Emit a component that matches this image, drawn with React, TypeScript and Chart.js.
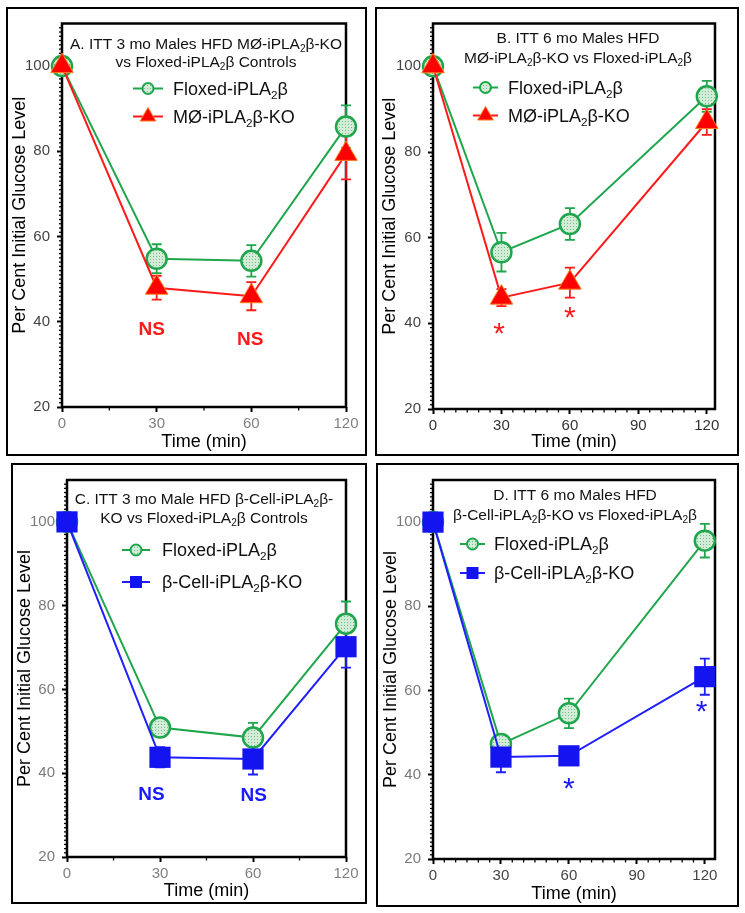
import React, { useEffect, useRef } from 'react';
import { Chart, registerables } from 'chart.js';

Chart.register(...registerables);

// ---------- data ----------
const timeCategories = ['0', '30', '60', '120'];
const timeMinutes = [0, 30, 60, 120];
const linearTimeTicks = [0, 30, 60, 90, 120];
const yTickValues = [20, 40, 60, 80, 100];

const aFloxed = [100, 54.8, 54.3, 85.8];
const aFloxedErr = [0, 3.4, 3.7, 5.0];
const aMoKO = [100, 48.0, 46.0, 79.4];
const aMoKOErr = [0, 2.8, 3.3, 6.0];

const bFloxed = [100, 56.6, 63.2, 93.0];
const bFloxedErr = [0, 4.5, 3.7, 3.6];
const bMoKO = [100, 46.0, 49.5, 87.0];
const bMoKOErr = [0, 2.0, 3.5, 3.0];

const cFloxed = [100, 50.9, 48.5, 75.7];
const cFloxedErr = [0, 1.5, 3.5, 5.3];
const cBetaKO = [100, 43.8, 43.4, 70.2];
const cBetaKOErr = [0, 2.4, 3.7, 5.0];

const dFloxed = [100, 47.3, 54.6, 95.6];
const dFloxedErr = [0, 1.5, 3.5, 4.0];
const dBetaKO = [100, 44.2, 44.5, 63.3];
const dBetaKOErr = [0, 3.6, 2.0, 4.3];

const FAMILY = '"Liberation Sans", Arial, Helvetica, sans-serif';

type Kind = 'floxed' | 'mo' | 'beta';
const STYLES: Record<Kind, any> = {
  floxed: { color: '#1fa64d', point: 'circle', radius: 10, fill: '#cfe9d3', border: '#1fa64d', bw: 2.5 },
  mo: { color: '#ff1a1a', point: 'triangle', radius: 13, fill: '#ff0000', border: '#ff7a1a', bw: 1 },
  beta: { color: '#1f1fff', point: 'rect', radius: 15, fill: '#1414f0', border: '#1414f0', bw: 0 },
};

interface Series { label: string; kind: Kind; values: number[]; errors: number[] }
interface Note { text: string; x: number; y: number; color: string; font: string }
interface Panel {
  box: { left: number; top: number; width: number; height: number };
  pad: { l: number; t: number; r: number; b: number };
  yTitlePad: number;
  xTitlePad: number;
  categorical: boolean;
  xMax: number;
  xTickColor: string;
  yTickColor: string;
  title: string[];
  titleY: number[];
  titleDx: number;
  legend: { x0: number; x1: number; mx: number; tx: number; rows: number[] };
  series: Series[];
  notes: Note[];
}

const NS_FONT = `bold 19px ${FAMILY}`;
const STAR_FONT = `30px ${FAMILY}`;
const RED = '#ff1a1a';
const BLUE = '#1a1aff';

const panels: Panel[] = [
  {
    box: { left: 6, top: 7, width: 361, height: 449 },
    pad: { l: 54, t: 14, r: 19, b: 47 },
    yTitlePad: 1, xTitlePad: 1,
    categorical: true, xMax: 3,
    xTickColor: '#808080', yTickColor: '#444',
    title: ['A. ITT 3 mo Males HFD MØ-iPLA₂β-KO', 'vs Floxed-iPLA₂β Controls'],
    titleY: [20, 38], titleDx: 2,
    legend: { x0: 71, x1: 101, mx: 86, tx: 111, rows: [65, 93] },
    series: [
      { label: 'Floxed-iPLA₂β', kind: 'floxed', values: aFloxed, errors: aFloxedErr },
      { label: 'MØ-iPLA₂β-KO', kind: 'mo', values: aMoKO, errors: aMoKOErr },
    ],
    notes: [
      { text: 'NS', x: 0.96, y: 38.4, color: RED, font: NS_FONT },
      { text: 'NS', x: 2.0, y: 36.0, color: RED, font: NS_FONT },
    ],
  },
  {
    box: { left: 375, top: 7, width: 364, height: 449 },
    pad: { l: 56, t: 14, r: 22, b: 45 },
    yTitlePad: 2, xTitlePad: 1,
    categorical: false, xMax: 123.6,
    xTickColor: '#333', yTickColor: '#444',
    title: ['B. ITT 6 mo Males HFD', 'MØ-iPLA₂β-KO vs Floxed-iPLA₂β'],
    titleY: [14, 34], titleDx: 4,
    legend: { x0: 40, x1: 65, mx: 52.5, tx: 75, rows: [64, 92] },
    series: [
      { label: 'Floxed-iPLA₂β', kind: 'floxed', values: bFloxed, errors: bFloxedErr },
      { label: 'MØ-iPLA₂β-KO', kind: 'mo', values: bMoKO, errors: bMoKOErr },
    ],
    notes: [
      { text: '*', x: 29, y: 38.9, color: RED, font: STAR_FONT },
      { text: '*', x: 60, y: 42.6, color: RED, font: STAR_FONT },
    ],
  },
  {
    box: { left: 11, top: 463, width: 356, height: 441 },
    pad: { l: 54, t: 8, r: 19, b: 45 },
    yTitlePad: 1, xTitlePad: 0,
    categorical: true, xMax: 3,
    xTickColor: '#808080', yTickColor: '#7a7a7a',
    title: ['C. ITT 3 mo Male HFD β-Cell-iPLA₂β-', 'KO vs Floxed-iPLA₂β Controls'],
    titleY: [18, 37], titleDx: -2.5,
    legend: { x0: 55, x1: 83, mx: 69, tx: 95, rows: [70, 102] },
    series: [
      { label: 'Floxed-iPLA₂β', kind: 'floxed', values: cFloxed, errors: cFloxedErr },
      { label: 'β-Cell-iPLA₂β-KO', kind: 'beta', values: cBetaKO, errors: cBetaKOErr },
    ],
    notes: [
      { text: 'NS', x: 0.92, y: 35.2, color: BLUE, font: NS_FONT },
      { text: 'NS', x: 2.02, y: 35.0, color: BLUE, font: NS_FONT },
    ],
  },
  {
    box: { left: 376, top: 463, width: 363, height: 444 },
    pad: { l: 55, t: 9, r: 22, b: 46 },
    yTitlePad: 2, xTitlePad: 0,
    categorical: false, xMax: 124.5,
    xTickColor: '#444', yTickColor: '#7a7a7a',
    title: ['D. ITT 6 mo Males HFD', 'β-Cell-iPLA₂β-KO vs Floxed-iPLA₂β'],
    titleY: [14, 34], titleDx: 1,
    legend: { x0: 27, x1: 52, mx: 39.5, tx: 61, rows: [64, 93] },
    series: [
      { label: 'Floxed-iPLA₂β', kind: 'floxed', values: dFloxed, errors: dFloxedErr },
      { label: 'β-Cell-iPLA₂β-KO', kind: 'beta', values: dBetaKO, errors: dBetaKOErr },
    ],
    notes: [
      { text: '*', x: 60, y: 38.0, color: BLUE, font: STAR_FONT },
      { text: '*', x: 118.7, y: 56.3, color: BLUE, font: STAR_FONT },
    ],
  },
];

// ---------- helpers ----------
function makeStipple(ctx: CanvasRenderingContext2D, size = 3) {
  const c = document.createElement('canvas');
  c.width = size;
  c.height = size;
  const g = c.getContext('2d')!;
  g.fillStyle = '#d3ecd7';
  g.fillRect(0, 0, size, size);
  g.fillStyle = '#72c286';
  g.fillRect(1, 1, 1, 1);
  return ctx.createPattern(c, 'repeat') as CanvasPattern;
}

function drawRich(ctx: CanvasRenderingContext2D, text: string, x: number, yCenter: number, size: number, align: 'left' | 'center', color: string) {
  const parts = text.split('₂');
  const main = `${size}px ${FAMILY}`;
  const sub = `${size * 0.65}px ${FAMILY}`;
  let w = 0;
  parts.forEach((s, i) => {
    ctx.font = main;
    w += ctx.measureText(s).width;
    if (i < parts.length - 1) {
      ctx.font = sub;
      w += ctx.measureText('2').width;
    }
  });
  let cx = align === 'center' ? x - w / 2 : x;
  const base = yCenter + size * 0.358;
  ctx.fillStyle = color;
  ctx.textAlign = 'left';
  ctx.textBaseline = 'alphabetic';
  parts.forEach((s, i) => {
    ctx.font = main;
    ctx.fillText(s, cx, base);
    cx += ctx.measureText(s).width;
    if (i < parts.length - 1) {
      ctx.font = sub;
      ctx.fillText('2', cx, base + size * 0.2);
      cx += ctx.measureText('2').width;
    }
  });
}

function drawMarker(ctx: CanvasRenderingContext2D, kind: Kind, x: number, y: number, stipple: CanvasPattern) {
  const st = STYLES[kind];
  ctx.save();
  if (kind === 'floxed') {
    ctx.beginPath();
    ctx.arc(x, y, 5.5, 0, Math.PI * 2);
    ctx.fillStyle = stipple;
    ctx.fill();
    ctx.lineWidth = 2;
    ctx.strokeStyle = st.border;
    ctx.stroke();
  } else if (kind === 'mo') {
    const r = 9;
    ctx.beginPath();
    ctx.moveTo(x, y - r);
    ctx.lineTo(x + r * 0.866, y + r / 2);
    ctx.lineTo(x - r * 0.866, y + r / 2);
    ctx.closePath();
    ctx.fillStyle = st.fill;
    ctx.fill();
    ctx.lineWidth = 1;
    ctx.strokeStyle = st.border;
    ctx.stroke();
  } else {
    ctx.fillStyle = st.fill;
    ctx.fillRect(x - 6, y - 6, 12, 12);
  }
  ctx.restore();
}

function PanelChart({ p }: { p: Panel }) {
  const ref = useRef<HTMLCanvasElement>(null);
  const cw = p.box.width - 4;
  const ch = p.box.height - 4;

  useEffect(() => {
    const canvas = ref.current!;
    const ctx = canvas.getContext('2d')!;
    const stipple = makeStipple(ctx);
    const xVals = p.categorical ? timeCategories.map((_, i) => i) : timeMinutes;
    const xTickVals = p.categorical ? timeCategories.map((_, i) => i) : linearTimeTicks;

    // KO series drawn on top of floxed
    const datasets = p.series.map((s, si) => {
      const st = STYLES[s.kind];
      return {
        label: s.label,
        data: s.values.map((v, i) => ({ x: xVals[i], y: v })),
        showLine: true,
        borderColor: st.color,
        borderWidth: 2,
        backgroundColor: st.color,
        pointStyle: st.point,
        pointRadius: st.radius,
        pointHoverRadius: st.radius,
        pointBackgroundColor: s.kind === 'floxed' ? stipple : st.fill,
        pointBorderColor: st.border,
        pointBorderWidth: st.bw,
        clip: false as any,
        order: si === 0 ? 1 : 0,
      };
    });

    const decor = {
      id: 'decor',
      beforeDatasetsDraw(chart: any) {
        const { ctx: c, chartArea: a, scales } = chart;
        const xs = scales.x;
        const ys = scales.y;
        c.save();
        // minor y ticks
        c.strokeStyle = '#000';
        c.lineWidth = 1.3;
        for (let v = 21; v < 110; v++) {
          if (v % 20 === 0) continue;
          const y = ys.getPixelForValue(v);
          c.beginPath();
          c.moveTo(a.left - 3, y);
          c.lineTo(a.left, y);
          c.stroke();
        }
        // minor x ticks
        const minors: number[] = [];
        if (p.categorical) {
          minors.push(0.5, 1.5, 2.5);
        } else {
          for (let v = 5; v < 120; v += 5) if (v % 30 !== 0) minors.push(v);
        }
        c.lineWidth = 1.3;
        minors.forEach((v) => {
          const x = xs.getPixelForValue(v);
          c.beginPath();
          c.moveTo(x, a.bottom);
          c.lineTo(x, a.bottom + 3.5);
          c.stroke();
        });
        // frame
        c.lineWidth = 2.5;
        c.strokeRect(a.left, a.top, a.right - a.left, a.bottom - a.top);
        // error bars
        p.series.forEach((s) => {
          const st = STYLES[s.kind];
          c.strokeStyle = st.color;
          c.lineWidth = 1.8;
          s.values.forEach((v, i) => {
            const e = s.errors[i];
            if (!e) return;
            const x = xs.getPixelForValue(xVals[i]);
            const yt = ys.getPixelForValue(v + e);
            const yb = ys.getPixelForValue(v - e);
            c.beginPath();
            c.moveTo(x, yt);
            c.lineTo(x, yb);
            c.moveTo(x - 5, yt);
            c.lineTo(x + 5, yt);
            c.moveTo(x - 5, yb);
            c.lineTo(x + 5, yb);
            c.stroke();
          });
        });
        c.restore();
      },
      afterDraw(chart: any) {
        const { ctx: c, chartArea: a, scales } = chart;
        const xs = scales.x;
        const ys = scales.y;
        c.save();
        const mid = (a.left + a.right) / 2 + p.titleDx;
        p.title.forEach((t, i) => drawRich(c, t, mid, a.top + p.titleY[i], 15.5, 'center', '#111'));
        // legend
        p.series.forEach((s, i) => {
          const st = STYLES[s.kind];
          const y = a.top + p.legend.rows[i];
          c.strokeStyle = st.color;
          c.lineWidth = 2;
          c.beginPath();
          c.moveTo(a.left + p.legend.x0, y);
          c.lineTo(a.left + p.legend.x1, y);
          c.stroke();
          drawMarker(c, s.kind, a.left + p.legend.mx, y, stipple);
          drawRich(c, s.label, a.left + p.legend.tx, y, 18, 'left', '#111');
        });
        // annotations
        p.notes.forEach((n) => {
          c.font = n.font;
          c.fillStyle = n.color;
          c.textAlign = 'left';
          c.textBaseline = 'alphabetic';
          const m = c.measureText(n.text);
          const px = xs.getPixelForValue(n.x);
          const py = ys.getPixelForValue(n.y);
          const left = px - (m.actualBoundingBoxRight - m.actualBoundingBoxLeft) / 2 + m.actualBoundingBoxLeft;
          const base = py + (m.actualBoundingBoxAscent - m.actualBoundingBoxDescent) / 2;
          c.fillText(n.text, left, base);
        });
        c.restore();
      },
    };

    const chart = new Chart(canvas, {
      type: 'scatter',
      data: { datasets: datasets as any },
      plugins: [decor],
      options: {
        responsive: false,
        animation: false,
        events: [],
        layout: { padding: { left: 0, top: p.pad.t, right: p.pad.r, bottom: 0 } },
        plugins: { legend: { display: false }, tooltip: { enabled: false }, title: { display: false } },
        scales: {
          x: {
            type: 'linear',
            min: 0,
            max: p.xMax,
            afterBuildTicks: (s: any) => {
              s.ticks = xTickVals.map((v) => ({ value: v }));
            },
            afterFit: (s: any) => {
              s.height = p.pad.b;
            },
            ticks: {
              autoSkip: false,
              maxRotation: 0,
              padding: 3,
              color: p.xTickColor,
              font: { family: FAMILY, size: 15 },
              callback: (v: any) => (p.categorical ? timeCategories[v as number] : String(v)),
            },
            grid: { drawOnChartArea: false, drawTicks: true, tickLength: 5, tickColor: '#000', tickWidth: 2 },
            border: { display: false },
            title: {
              display: true,
              text: 'Time (min)',
              color: '#000',
              font: { family: FAMILY, size: 18, lineHeight: 1.2 },
              padding: { top: 0, bottom: p.xTitlePad },
            },
          },
          y: {
            type: 'linear',
            min: 20,
            max: 110,
            afterBuildTicks: (s: any) => {
              s.ticks = yTickValues.map((v) => ({ value: v }));
            },
            afterFit: (s: any) => {
              s.width = p.pad.l;
            },
            ticks: {
              padding: 7,
              color: p.yTickColor,
              font: { family: FAMILY, size: 15, lineHeight: 1 },
            },
            grid: { drawOnChartArea: false, drawTicks: true, tickLength: 5, tickColor: '#000', tickWidth: 2 },
            border: { display: false },
            title: {
              display: true,
              text: 'Per Cent Initial Glucose Level',
              color: '#000',
              font: { family: FAMILY, size: 18, lineHeight: 1.2 },
              padding: { top: p.yTitlePad, bottom: 0 },
            },
          },
        },
      } as any,
    });
    return () => chart.destroy();
  }, [p]);

  return (
    <div
      style={{
        position: 'absolute',
        left: p.box.left,
        top: p.box.top,
        width: p.box.width,
        height: p.box.height,
        border: '2px solid #000',
        boxSizing: 'border-box',
        background: '#fff',
      }}
    >
      <canvas ref={ref} width={cw} height={ch} style={{ position: 'absolute', left: 0, top: 0, width: cw, height: ch, display: 'block' }} />
    </div>
  );
}

export default function App() {
  return (
    <div style={{ position: 'absolute', left: 0, top: 0, width: 745, height: 913, background: '#fff' }}>
      {panels.map((p, i) => (
        <PanelChart key={i} p={p} />
      ))}
    </div>
  );
}
